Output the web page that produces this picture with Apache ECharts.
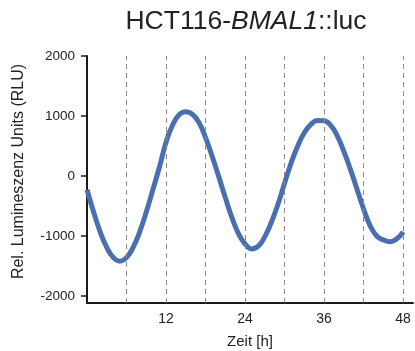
<!DOCTYPE html>
<html>
<head>
<meta charset="utf-8">
<script src="https://cdn.jsdelivr.net/npm/echarts@6/dist/echarts.min.js"></script>
<style>
html,body{margin:0;padding:0;background:#fff;}
#chart{width:415px;height:351px;}
</style>
</head>
<body>
<div id="chart"></div>
<script>
var hours = [0,1,2,3,4,5,6,7,8,9,10,11,12,13,14,15,16,17,18,19,20,21,22,23,24,25,26,27,28,29,30,31,32,33,34,35,36,37,38,39,40,41,42,43,44,45,46,47,48];
var rlu = [-230,-600,-930,-1190,-1360,-1420,-1360,-1190,-930,-600,-230,150,560,850,1020,1070,1030,890,640,330,-10,-360,-690,-960,-1130,-1215,-1170,-1010,-770,-470,-120,220,500,720,860,925,920,845,670,410,110,-220,-550,-830,-1000,-1065,-1095,-1050,-930];
var xTickLabels = [12,24,36,48];
var yTickLabels = [-2000,-1000,0,1000,2000];
var dashHours = [6,12,18,24,30,36,42,48];

var chart = echarts.init(document.getElementById('chart'));
var data = hours.map(function(h,i){return [h, rlu[i]];});
chart.setOption({
  animation:false,
  title:{
    text:'{n|HCT116-}{i|BMAL1}{n|::luc}',
    left:241, top:3, textAlign:'center',
    textStyle:{fontWeight:'normal',rich:{
      n:{fontFamily:'Liberation Sans',fontSize:26.5,fontWeight:'normal',color:'#222'},
      i:{fontFamily:'Liberation Sans',fontSize:26.5,fontWeight:'normal',fontStyle:'italic',color:'#222'}
    }}
  },
  grid:{left:87,top:56,right:2,bottom:48,containLabel:false,outerBoundsMode:'none'},
  xAxis:{
    type:'value',min:0,max:49.5,
    name:'Zeit [h]',nameLocation:'middle',nameGap:31,
    nameTextStyle:{fontFamily:'Liberation Sans',fontSize:15,color:'#222'},
    axisLine:{onZero:false,lineStyle:{color:'#1a1a1a',width:2}},
    axisTick:{show:false},
    axisLabel:{customValues:xTickLabels,margin:9,fontFamily:'Liberation Sans',fontSize:14,color:'#222'},
    splitLine:{show:false}
  },
  yAxis:{
    type:'value',min:-2117,max:2000,
    name:'Rel. Lumineszenz Units (RLU)',nameLocation:'middle',nameGap:60,nameRotate:90,
    nameTextStyle:{fontFamily:'Liberation Sans',fontSize:16,color:'#222',padding:[0,0,0,16]},
    axisLine:{show:true,onZero:false,lineStyle:{color:'#1a1a1a',width:2}},
    axisTick:{show:true,customValues:yTickLabels,length:6,lineStyle:{color:'#1a1a1a',width:1.5}},
    axisLabel:{customValues:yTickLabels,margin:12,fontFamily:'Liberation Sans',fontSize:13.5,color:'#222',
      formatter:function(v){return String(v);}},
    splitLine:{show:false}
  },
  series:[{
    type:'line',data:data,smooth:true,showSymbol:false,
    lineStyle:{color:'#4a6fae',width:5},
    markLine:{
      silent:true,symbol:['none','none'],label:{show:false},
      lineStyle:{color:'#8a8a8a',type:[5,4],width:1},
      data:dashHours.map(function(h){return {xAxis:h};})
    }
  }]
});
</script>
</body>
</html>
